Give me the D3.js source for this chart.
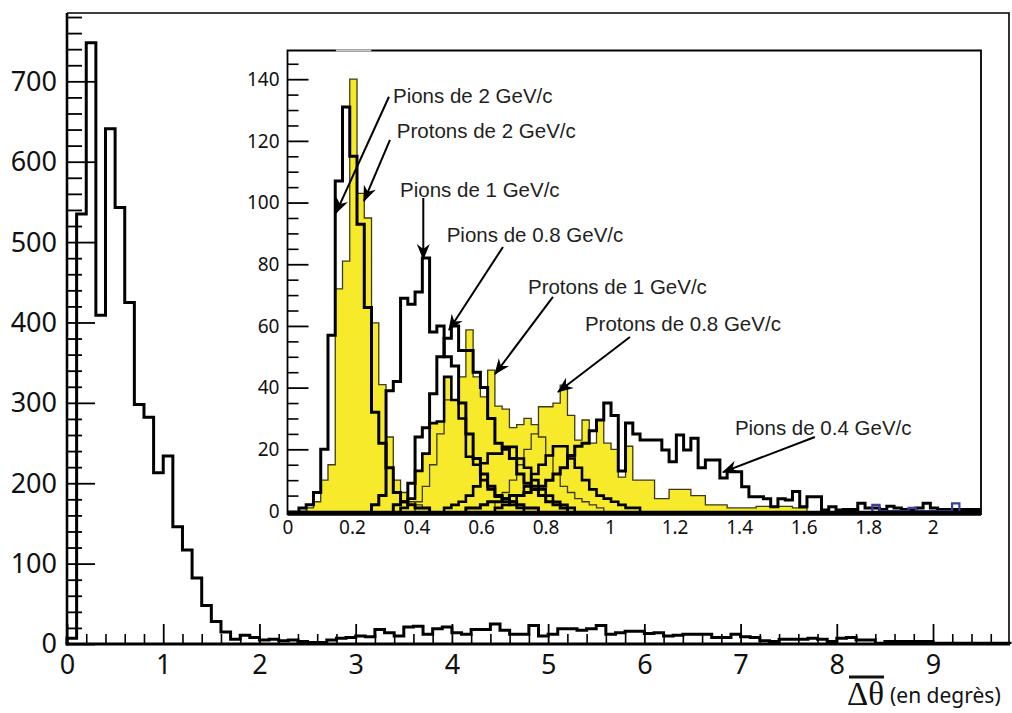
<!DOCTYPE html>
<html>
<head>
<meta charset="utf-8">
<script src="https://cdn.jsdelivr.net/npm/d3@7/dist/d3.min.js"></script>
<style>
  body { margin: 0; background: #fff; }
  svg { display: block; }
</style>
</head>
<body>
<svg id="chart" width="1012" height="713"></svg>
<script>
// ---- main histogram (bins of 0.1 degree from 0) ----
const mainBinW = 0.1;
const mainCounts = [
  7, 535, 748, 409, 641, 543, 425, 298, 282, 213,
  234, 146, 117, 82, 48, 28, 15, 6, 11, 8,
  5, 6, 4, 5, 3, 2, 2, 5, 7, 8,
  10, 9, 18, 14, 10, 21, 22, 12, 19, 21,
  14, 12, 18, 18, 25, 17, 12, 12, 23, 10,
  12, 19, 19, 17, 19, 23, 12, 14, 16, 16,
  13, 14, 10, 11, 12, 12, 12, 8, 8, 12,
  9, 8, 4, 3, 6, 6, 6, 7, 6, 3,
  7, 8, 5, 5, 1, 3, 3, 3, 3, 3,
  1, 1, 1, 1, 1, 1, 1, 1
];
const mainXTicks = [0, 1, 2, 3, 4, 5, 6, 7, 8, 9];
const mainYTicks = [0, 100, 200, 300, 400, 500, 600, 700];

// ---- inset histograms: bin k covers [binStart + k*binW, binStart + (k+1)*binW] ----
const insetBinStart = 0.013;
const insetBinW = 0.0225;

const pions2Start = 1;
const pions2 = [1, 2, 6, 20, 57, 107, 131, 115, 93, 66, 32, 22, 14, 6, 3, 2, 1, 1];
const pions1Start = 11;
const pions1 = [2, 5, 39, 42, 69, 67, 71, 82, 58, 60, 50, 47, 35, 25, 17, 12, 8, 5, 4, 3, 2, 1, 1];
const pions08Start = 14;
const pions08 = [2, 3, 9, 24, 27, 38, 50, 56, 60, 52, 52, 45, 40, 30, 22, 20, 17, 12, 9, 7, 5, 3, 2, 1];
const pions04Start = 24;
const pions04 = [
  1, 1, 2, 3, 3, 4, 5, 5, 6, 8, 8, 10, 12, 14, 18, 21, 22, 26, 29.5, 35,
  31, 13, 28.5, 25, 23, 23, 23, 19.8, 16, 24.6, 19.8, 23.6, 14, 16.5, 16.5, 10.7, 12.7, 12.7, 7.9, 4.6,
  4.6, 4, 1.4, 4, 3.6, 6.3, 1.4, 4.6, 4.6, 0.3, 1.4, 0.3, 0.5, 0.5, 2.5, 1, 1, 0.5, 1.5, 1,
  0.5, 0.5, 1, 2.5, 1, 0.5, 0.5, 0.5, 0.5, 0.5, 0.5
];

const protons2Start = 2;
const protons2 = [1, 3, 10, 15, 72, 81, 140, 103, 95, 61, 41, 24, 10, 6, 3, 2, 1];
const protons1Start = 17;
const protons1 = [3, 8, 15, 25, 36, 36, 43.5, 58.7, 43.5, 37, 45.7, 34, 33, 27, 28, 30, 28, 24, 18, 12, 8, 6, 4, 3, 2, 1];
const protons08Start = 28;
const protons08 = [
  3, 6, 10, 15, 20, 25, 33.8, 33.8, 35, 40.8, 31, 23, 29.5, 22, 29.5, 22, 20, 11, 21, 10,
  10, 10, 4, 4, 7, 7, 7, 5, 5, 2, 2, 2, 1, 1, 1, 1, 1.5, 1.5, 1.5, 1.5, 1.5, 1, 1
];
// yellow histograms drawn with a heavy outline (not labelled in the figure)
const yellowAStart = 15;
const yellowA = [1, 4, 13, 18.6, 28.5, 29, 43.5, 36, 30, 17.6, 15, 10, 7, 4.6, 3, 2, 1];
const yellowBStart = 21;
const yellowB = [1, 2, 3, 5, 8, 15.5, 18.6, 18.6, 20.8, 20.8, 17, 14, 10, 7, 5, 3, 2, 1];
const yellowCStart = 28;
const yellowC = [1, 2, 3, 5, 8, 12, 15, 18, 21, 21, 17, 14, 10, 7, 5, 4, 3, 2, 1, 1];
const blueStart = 80;
const blue = [2, 0, 0, 0, 0, 1, 0, 0, 0, 0, 0, 2.5];

const insetXTicks = [0, 0.2, 0.4, 0.6, 0.8, 1, 1.2, 1.4, 1.6, 1.8, 2];
const insetYTicks = [0, 20, 40, 60, 80, 100, 120, 140];

// annotations, in inset data units
const labels = [
  { text: "Pions de 2 GeV/c",      tx: 0.327, ty: 134.8, x1: 0.3146, y1: 134.3, x2: 0.150, y2: 96.6 },
  { text: "Protons de 2 GeV/c",    tx: 0.339, ty: 123.2, x1: 0.3177, y1: 120.3, x2: 0.237, y2: 100.5 },
  { text: "Pions de 1 GeV/c",      tx: 0.349, ty: 104.2, x1: 0.421,  y1: 101.5, x2: 0.421, y2: 81.7 },
  { text: "Pions de 0.8 GeV/c",    tx: 0.4935, ty: 89.5, x1: 0.668,  y1: 85.6,  x2: 0.5006, y2: 58.7 },
  { text: "Protons de 1 GeV/c",    tx: 0.7455, ty: 72.6, x1: 0.823,  y1: 69.4,  x2: 0.6432, y2: 44.4 },
  { text: "Protons de 0.8 GeV/c",  tx: 0.922, ty: 60.6,  x1: 1.0617, y1: 56.4,  x2: 0.8385, y2: 38.6 },
  { text: "Pions de 0.4 GeV/c",    tx: 1.387, ty: 26.9,  x1: 1.635,  y1: 24,    x2: 1.35,   y2: 12.6 }
];

const YELLOW = "#f7ea2b";
const tickFont = "'Noto Sans', 'Open Sans', sans-serif";
const labelFont = "'Liberation Sans', Arial, sans-serif";

const svg = d3.select("#chart");

const defs = svg.append("defs");
defs.append("marker")
  .attr("id", "arrow")
  .attr("viewBox", "-17 -8 19 16")
  .attr("refX", 0).attr("refY", 0)
  .attr("markerWidth", 19).attr("markerHeight", 16)
  .attr("markerUnits", "userSpaceOnUse")
  .attr("orient", "auto")
  .append("path")
  .attr("d", "M1,0 L-15,-6.5 L-10,0 L-15,6.5 Z")
  .attr("fill", "#000");

/**
 * step outline of a histogram, closed down to zero at both ends
 */
function histPath(x, y, x0, w, vals) {
  const pts = [[x0, 0]];
  vals.forEach((v, i) => {
    pts.push([x0 + i * w, v], [x0 + (i + 1) * w, v]);
  });
  pts.push([x0 + vals.length * w, 0]);
  return d3.line().x(d => x(d[0])).y(d => y(d[1]))(pts);
}

// ================= main plot =================
const xMain = d3.scaleLinear().domain([0, 9.8]).range([67, 1010]);
const yMain = d3.scaleLinear().domain([0, 785]).range([644, 13]);

// frame
svg.append("path")
  .attr("d", `M${xMain(0)},${yMain(785)} H${xMain(9.8) - 1} V${yMain(0)}`)
  .attr("fill", "none").attr("stroke", "#000").attr("stroke-width", 1.6);

svg.append("path")
  .attr("d", histPath(xMain, yMain, 0, mainBinW, mainCounts))
  .attr("fill", "none")
  .attr("stroke", "#000")
  .attr("stroke-width", 3);

// y axis (ticks inside)
const yMinor = d3.range(0, 785, 20).filter(v => v % 100 !== 0);
svg.append("g")
  .attr("transform", `translate(${xMain(0)},0)`)
  .call(d3.axisLeft(yMain).tickValues(yMinor).tickSize(-15).tickFormat(""))
  .call(g => g.select(".domain").remove())
  .call(g => g.selectAll("line").attr("stroke-width", 1.8));

svg.append("g")
  .attr("transform", `translate(${xMain(0)},0)`)
  .call(d3.axisLeft(yMain).tickValues(mainYTicks).tickSize(-28).tickPadding(10))
  .call(g => g.select(".domain").remove())
  .call(g => g.selectAll("line").attr("stroke-width", 1.8))
  .call(g => g.selectAll("text")
    .attr("font-family", tickFont).attr("font-size", 27).attr("fill", "#111")
    .attr("dy", "0.33em"));

// x axis (ticks inside)
const xMinor = d3.range(1, 49).map(i => i * 0.2).filter(v => Math.abs(v - Math.round(v)) > 1e-6);
svg.append("g")
  .attr("transform", `translate(0,${yMain(0)})`)
  .call(d3.axisBottom(xMain).tickValues(xMinor).tickSize(-10).tickFormat(""))
  .call(g => g.select(".domain").remove())
  .call(g => g.selectAll("line").attr("stroke-width", 1.6));

svg.append("g")
  .attr("transform", `translate(0,${yMain(0)})`)
  .call(d3.axisBottom(xMain).tickValues(mainXTicks).tickSize(-20).tickPadding(11))
  .call(g => g.select(".domain").remove())
  .call(g => g.selectAll("line").attr("stroke-width", 1.8))
  .call(g => g.selectAll("text")
    .attr("font-family", tickFont).attr("font-size", 27).attr("fill", "#111"));

// axis lines
svg.append("line")
  .attr("x1", xMain(0)).attr("x2", xMain(0))
  .attr("y1", yMain(785)).attr("y2", yMain(0) + 1.5)
  .attr("stroke", "#000").attr("stroke-width", 2.6);
svg.append("line")
  .attr("x1", xMain(0) - 1.3).attr("x2", xMain(9.8))
  .attr("y1", yMain(0)).attr("y2", yMain(0))
  .attr("stroke", "#000").attr("stroke-width", 3);

// axis title
svg.append("text")
  .attr("x", 847).attr("y", 705)
  .attr("font-family", "'Liberation Serif', 'DejaVu Serif', serif")
  .attr("font-size", 33)
  .attr("fill", "#111")
  .text("Δθ");
svg.append("line")
  .attr("x1", 849).attr("x2", 884)
  .attr("y1", 677).attr("y2", 677)
  .attr("stroke", "#111").attr("stroke-width", 3);
svg.append("text")
  .attr("x", 890).attr("y", 703)
  .attr("font-family", tickFont)
  .attr("font-size", 21)
  .attr("fill", "#111")
  .text("(en degrès)");

// ================= inset =================
const xIn = d3.scaleLinear().domain([0, 2.15]).range([287.5, 981]);
const yIn = d3.scaleLinear().domain([0, 149.3]).range([511, 50.5]);

const inset = svg.append("g");
inset.append("rect")
  .attr("x", xIn(0)).attr("y", yIn(149.3))
  .attr("width", xIn(2.15) - xIn(0)).attr("height", yIn(0) - yIn(149.3) + 5)
  .attr("fill", "#fff");

defs.append("clipPath").attr("id", "insetClip")
  .append("rect")
  .attr("x", xIn(0)).attr("y", yIn(149.3))
  .attr("width", xIn(2.15) - xIn(0)).attr("height", yIn(0) - yIn(149.3) + 3);

const plot = inset.append("g").attr("clip-path", "url(#insetClip)");

const inPath = (start, vals) =>
  histPath(xIn, yIn, insetBinStart + start * insetBinW, insetBinW, vals);

const yellowThin = [
  [protons2Start, protons2],
  [protons1Start, protons1],
  [protons08Start, protons08]
];
const yellowThick = [
  [yellowAStart, yellowA],
  [yellowBStart, yellowB],
  [yellowCStart, yellowC]
];
const pionSeries = [
  [pions04Start, pions04],
  [pions08Start, pions08],
  [pions1Start, pions1],
  [pions2Start, pions2]
];

// yellow fills
plot.selectAll("path.fill")
  .data(yellowThin.concat(yellowThick))
  .join("path")
  .attr("class", "fill")
  .attr("d", d => inPath(d[0], d[1]))
  .attr("fill", YELLOW)
  .attr("stroke", "none");

// thin outlines on the proton histograms
plot.selectAll("path.thin")
  .data(yellowThin)
  .join("path")
  .attr("class", "thin")
  .attr("d", d => inPath(d[0], d[1]))
  .attr("fill", "none")
  .attr("stroke", "#3d3a16")
  .attr("stroke-width", 1.3);

plot.selectAll("path.thick")
  .data(yellowThick)
  .join("path")
  .attr("class", "thick")
  .attr("d", d => inPath(d[0], d[1]))
  .attr("fill", "none")
  .attr("stroke", "#000")
  .attr("stroke-width", 2.6);

// pion outlines
plot.selectAll("path.pion")
  .data(pionSeries)
  .join("path")
  .attr("class", "pion")
  .attr("d", d => inPath(d[0], d[1]))
  .attr("fill", "none")
  .attr("stroke", "#000")
  .attr("stroke-width", 3);

plot.append("path")
  .attr("d", inPath(blueStart, blue))
  .attr("fill", "none")
  .attr("stroke", "#3c3f9c")
  .attr("stroke-width", 2.2);

// thick band along the inset x axis
inset.append("line")
  .attr("x1", xIn(0)).attr("x2", xIn(2.15))
  .attr("y1", yIn(0) + 2.2).attr("y2", yIn(0) + 2.2)
  .attr("stroke", "#000").attr("stroke-width", 5);

// inset frame
inset.append("path")
  .attr("d", `M${xIn(0)},${yIn(0) + 4} V${yIn(149.3)} H${xIn(2.15)} V${yIn(0) + 4}`)
  .attr("fill", "none").attr("stroke", "#000").attr("stroke-width", 1.8);
// faint gap in the top border above the tallest peak
inset.append("line")
  .attr("x1", xIn(0.15)).attr("x2", xIn(0.26))
  .attr("y1", yIn(149.3)).attr("y2", yIn(149.3))
  .attr("stroke", "#c8c8c8").attr("stroke-width", 2);

// inset y axis
const yInMinor = d3.range(0, 150, 5).filter(v => v % 20 !== 0);
inset.append("g")
  .attr("transform", `translate(${xIn(0)},0)`)
  .call(d3.axisLeft(yIn).tickValues(yInMinor).tickSize(-11).tickFormat(""))
  .call(g => g.select(".domain").remove())
  .call(g => g.selectAll("line").attr("stroke-width", 1.6));
inset.append("g")
  .attr("transform", `translate(${xIn(0)},0)`)
  .call(d3.axisLeft(yIn).tickValues(insetYTicks).tickSize(-21).tickPadding(8))
  .call(g => g.select(".domain").remove())
  .call(g => g.selectAll("line").attr("stroke-width", 1.8))
  .call(g => g.selectAll("text")
    .attr("font-family", tickFont).attr("font-size", 19).attr("fill", "#111")
    .attr("dy", "0.33em"));

// inset x axis labels
inset.append("g")
  .attr("transform", `translate(0,${yIn(0)})`)
  .call(d3.axisBottom(xIn).tickValues(insetXTicks).tickSize(0).tickPadding(10)
    .tickFormat(d => String(+d.toFixed(1))))
  .call(g => g.select(".domain").remove())
  .call(g => g.selectAll("text")
    .attr("font-family", tickFont).attr("font-size", 19).attr("fill", "#111"));

// annotations
const notes = inset.append("g");
notes.selectAll("line")
  .data(labels)
  .join("line")
  .attr("x1", d => xIn(d.x1)).attr("y1", d => yIn(d.y1))
  .attr("x2", d => xIn(d.x2)).attr("y2", d => yIn(d.y2))
  .attr("stroke", "#000")
  .attr("stroke-width", 2)
  .attr("marker-end", "url(#arrow)");

notes.selectAll("text")
  .data(labels)
  .join("text")
  .attr("x", d => xIn(d.tx))
  .attr("y", d => yIn(d.ty))
  .attr("dy", "0.36em")
  .attr("font-family", labelFont)
  .attr("font-size", 20.5)
  .attr("fill", "#231f20")
  .text(d => d.text);
</script>
</body>
</html>
